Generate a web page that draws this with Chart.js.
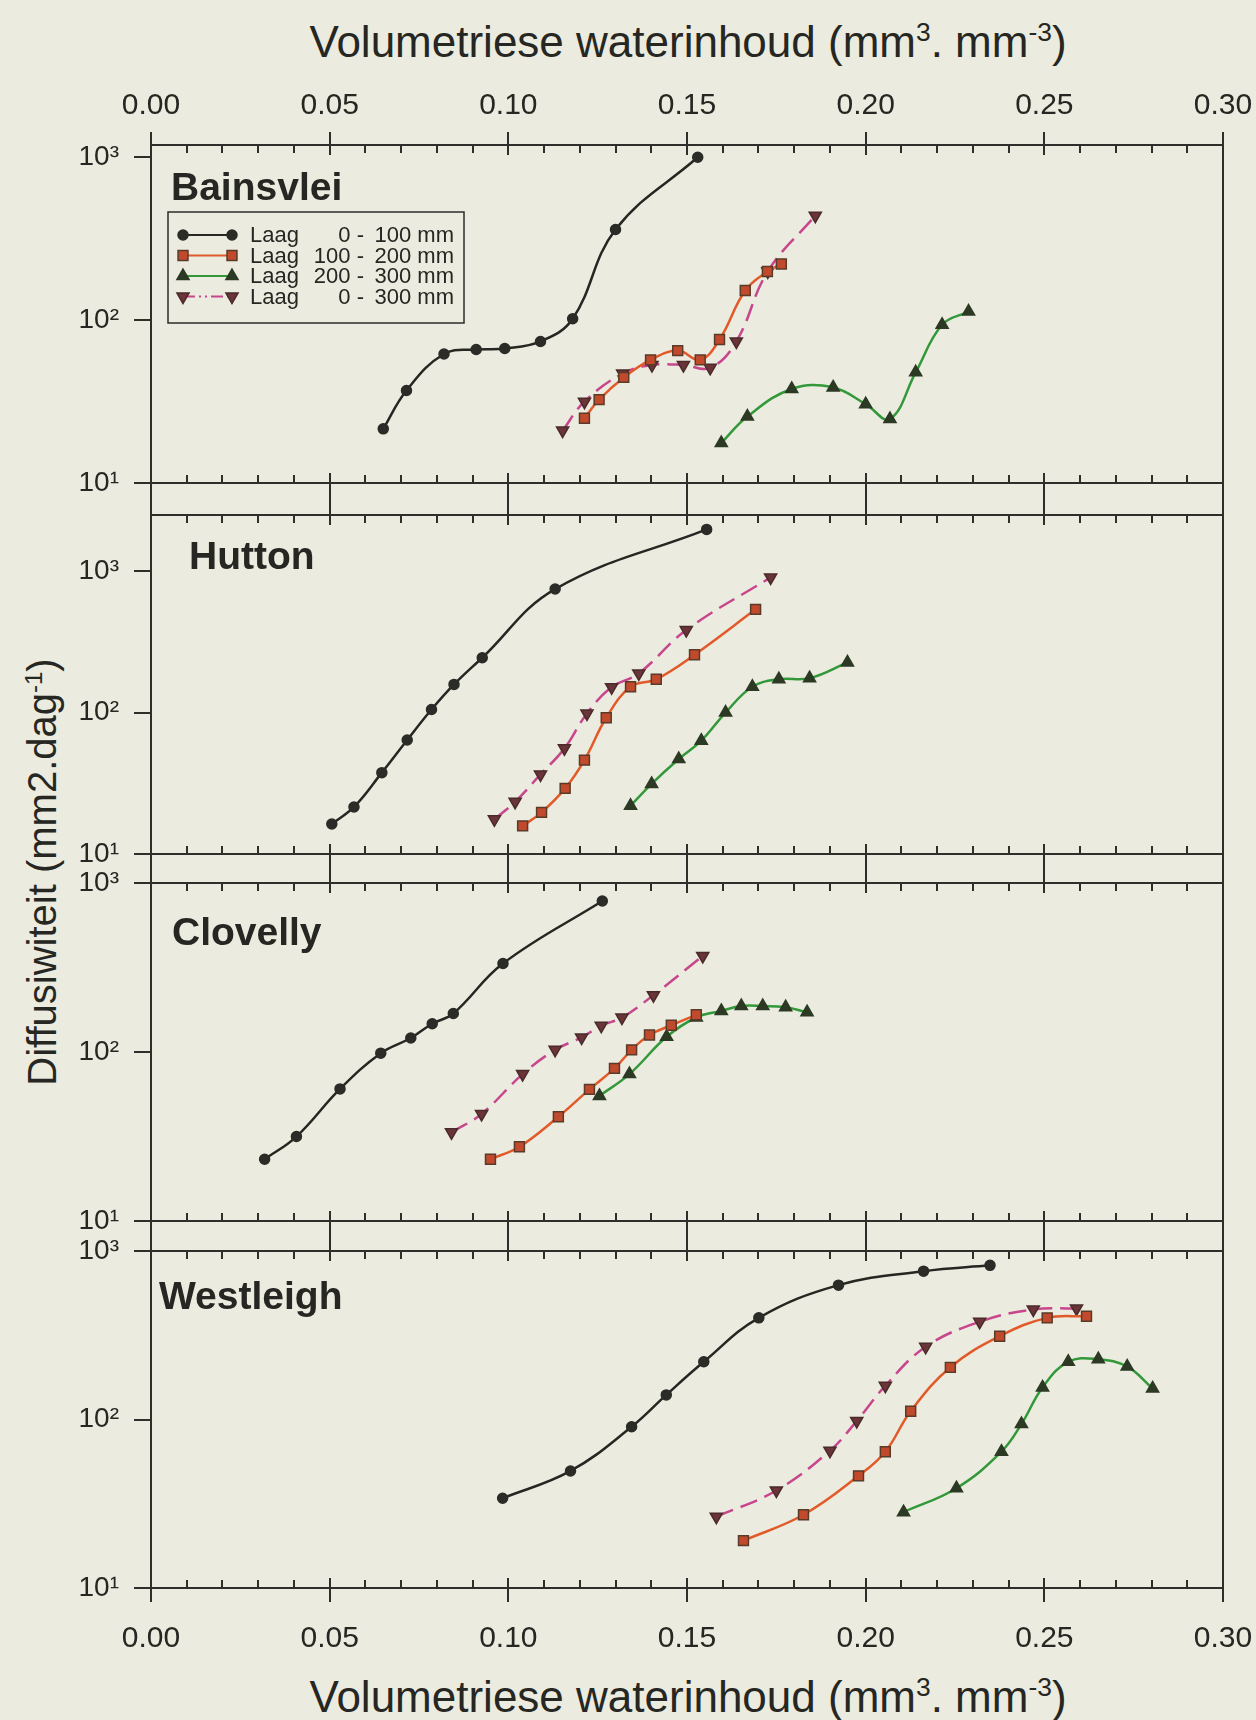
<!DOCTYPE html>
<html>
<head>
<meta charset="utf-8">
<script src="https://cdn.jsdelivr.net/npm/chart.js@4.4.1/dist/chart.umd.min.js"></script>
<style>
  html, body { margin: 0; padding: 0; }
  body {
    width: 1256px; height: 1720px; position: relative; overflow: hidden;
    background: #ebebdf; color: #262622;
    font-family: 'Liberation Sans', Arial, sans-serif;
  }
  canvas { position: absolute; left: 0; top: 0; }
  .title { position: absolute; white-space: nowrap; line-height: 1; transform: translate(-50%, -50%); }
  .title sup { font-size: 0.6em; position: relative; top: -0.6em; vertical-align: baseline; line-height: 0; }
  #xTop { left: 688px; top: 42px; font-size: 44px; }
  #xBottom { left: 688px; top: 1697px; font-size: 44px; }
  #yTitle { left: 42px; top: 872px; font-size: 40px; transform: translate(-50%, -50%) rotate(-90deg); }
</style>
</head>
<body>
<div class="title" id="xTop">Volumetriese waterinhoud (mm<sup>3</sup>. mm<sup>-3</sup>)</div>
<div class="title" id="yTitle">Diffusiwiteit (mm2.dag<sup>-1</sup>)</div>
<div class="title" id="xBottom">Volumetriese waterinhoud (mm<sup>3</sup>. mm<sup>-3</sup>)</div>
<canvas id="panel0" width="1256" height="1720"></canvas>
<canvas id="panel1" width="1256" height="1720"></canvas>
<canvas id="panel2" width="1256" height="1720"></canvas>
<canvas id="panel3" width="1256" height="1720"></canvas>
<script>
// soils and layers
const SOILS = ['Bainsvlei', 'Hutton', 'Clovelly', 'Westleigh'];
const LAYER_FROM = [0, 100, 200, 0];
const LAYER_TO = [100, 200, 300, 300];

// axes
const X_TICKS = [0, 0.05, 0.10, 0.15, 0.20, 0.25, 0.30];
const Y_TICKS = [10, 100, 1000];
const Y_LABELS = ['10¹', '10²', '10³'];
const Y_MAX = [1190, 2490, 1000, 1000];

// [water content, diffusivity] per soil and layer
const bainsvlei0_100 = [[0.065, 21.5], [0.0715, 37], [0.082, 62], [0.091, 66], [0.099, 67], [0.109, 74], [0.118, 102], [0.130, 360], [0.153, 1000]];
const bainsvlei100_200 = [[0.1213, 25], [0.1254, 32.5], [0.1323, 44.5], [0.1398, 57], [0.1474, 65], [0.1537, 57], [0.1591, 76], [0.1663, 152], [0.1725, 199], [0.1764, 221]];
const bainsvlei200_300 = [[0.1596, 17.6], [0.1669, 25.6], [0.1793, 37.8], [0.1909, 38.6], [0.200, 30.5], [0.2068, 24.7], [0.214, 47.8], [0.2214, 93.7], [0.2288, 113]];
const bainsvlei0_300 = [[0.1152, 21], [0.1213, 31.6], [0.132, 47], [0.1402, 53], [0.149, 53], [0.1565, 51], [0.1638, 74], [0.1726, 199], [0.1859, 438]];

const hutton0_100 = [[0.0506, 16.3], [0.0568, 21.5], [0.0646, 37.6], [0.0717, 64], [0.0785, 105], [0.0848, 158], [0.0927, 244], [0.1131, 746], [0.1555, 1970]];
const hutton100_200 = [[0.104, 15.8], [0.1093, 19.7], [0.1159, 29.1], [0.1213, 46.1], [0.1274, 91.8], [0.1342, 152], [0.1414, 172], [0.1521, 256], [0.1692, 536]];
const hutton200_300 = [[0.1342, 21.9], [0.1401, 31.3], [0.1477, 46.9], [0.154, 63.2], [0.1608, 100], [0.1683, 152], [0.1757, 172], [0.1843, 175], [0.1949, 226]];
const hutton0_300 = [[0.0961, 17.6], [0.1019, 23.4], [0.109, 36.5], [0.1157, 55.8], [0.122, 98.6], [0.1289, 151], [0.1365, 189], [0.1498, 383], [0.1734, 902]];

const clovelly0_100 = [[0.0318, 23.2], [0.0407, 31.6], [0.0529, 60.5], [0.0643, 98.4], [0.0727, 121], [0.0787, 147], [0.0846, 169], [0.0985, 334], [0.1263, 782]];
const clovelly100_200 = [[0.095, 23.2], [0.1031, 27.5], [0.114, 41.4], [0.1227, 60.1], [0.1297, 80], [0.1345, 103], [0.1395, 126], [0.1456, 144], [0.1526, 166]];
const clovelly200_300 = [[0.1255, 55], [0.1339, 74], [0.1443, 123], [0.1526, 160], [0.1596, 175], [0.1652, 187], [0.1712, 187], [0.1776, 184], [0.1836, 172]];
const clovelly0_300 = [[0.0841, 33.5], [0.0925, 43], [0.104, 74], [0.1131, 103], [0.1205, 122], [0.126, 143], [0.1318, 160], [0.1406, 217], [0.1544, 370]];

const westleigh0_100 = [[0.0984, 34.1], [0.1174, 49.5], [0.1345, 90.6], [0.1442, 140], [0.1547, 220], [0.1701, 401], [0.1924, 627], [0.2162, 759], [0.2348, 822]];
const westleigh100_200 = [[0.1658, 19.1], [0.1826, 27.2], [0.198, 46.3], [0.2055, 64.4], [0.2126, 112], [0.2237, 204], [0.2375, 312], [0.2508, 401], [0.2618, 410]];
const westleigh200_300 = [[0.2106, 28.2], [0.2254, 39.1], [0.238, 64.4], [0.2436, 94], [0.2495, 155], [0.2567, 220], [0.2651, 228], [0.2732, 206], [0.2803, 153]];
const westleigh0_300 = [[0.1582, 26.5], [0.175, 37.9], [0.19, 65.3], [0.1975, 98], [0.2055, 158.6], [0.2168, 270], [0.2319, 380], [0.2469, 450], [0.259, 456]];

const SERIES = [
  [bainsvlei0_100, bainsvlei100_200, bainsvlei200_300, bainsvlei0_300],
  [hutton0_100, hutton100_200, hutton200_300, hutton0_300],
  [clovelly0_100, clovelly100_200, clovelly200_300, clovelly0_300],
  [westleigh0_100, westleigh100_200, westleigh200_300, westleigh0_300],
];

// page layout
const PAGE_W = 1256, PAGE_H = 1720;
const PLOT_LEFT = 151, PLOT_RIGHT = 1223;
const PANEL_TOP = [145, 515, 883, 1251];
const PANEL_BOTTOM = [483, 854, 1221, 1588];
const NAME_POS = [[171, 189], [189, 558], [172, 934], [159, 1298]];
const LEGEND = { x: 168, y: 212, w: 296, h: 111, row0: 235, rowStep: 20.5, lineFrom: 183, lineTo: 232, word: 250, from: 364, to: 454 };

const AXIS = '#2e2e2a';
const TEXT = '#262622';
const FONT = "'Liberation Sans', Arial, sans-serif";

const STYLES = [
  { borderColor: '#262622', pointStyle: 'circle', pointRadius: 5, pointBackgroundColor: '#2b2b27', pointBorderColor: '#2b2b27' },
  { borderColor: '#e25a2a', pointStyle: 'rect', pointRadius: 7, pointBackgroundColor: '#c24a2c', pointBorderColor: '#5a3a28' },
  { borderColor: '#33983a', pointStyle: 'triangle', pointRadius: 7, pointBackgroundColor: '#2c3a24', pointBorderColor: '#2c3a24' },
  { borderColor: '#c8468c', borderDash: [18, 8], pointStyle: 'triangle', pointRotation: 180, pointRadius: 7, pointBackgroundColor: '#6a3438', pointBorderColor: '#4a2a2a' },
];
const LEGEND_DASH = [[], [], [], [12, 4, 2, 4, 2, 4]];

Chart.defaults.font.family = FONT;
Chart.defaults.color = TEXT;

function drawMarker(ctx, st, x, y) {
  const r = st.pointRadius;
  ctx.save();
  ctx.setLineDash([]);
  ctx.fillStyle = st.pointBackgroundColor;
  ctx.strokeStyle = st.pointBorderColor;
  ctx.lineWidth = 1.5;
  ctx.beginPath();
  if (st.pointStyle === 'circle') {
    ctx.arc(x, y, r, 0, Math.PI * 2);
  } else if (st.pointStyle === 'rect') {
    const h = r * Math.SQRT1_2;
    ctx.rect(x - h, y - h, 2 * h, 2 * h);
  } else {
    const rot = (st.pointRotation || 0) * Math.PI / 180;
    for (let k = 0; k < 3; k++) {
      const a = rot + k * 2 * Math.PI / 3;
      const px = x + Math.sin(a) * r, py = y - Math.cos(a) * r;
      if (k) ctx.lineTo(px, py); else ctx.moveTo(px, py);
    }
    ctx.closePath();
  }
  ctx.fill();
  ctx.stroke();
  ctx.restore();
}

// panel box, inward x ticks, panel name and (first panel) the legend
const framePlugin = {
  id: 'frame',
  beforeDatasetsDraw(chart, args, opts) {
    const { ctx, chartArea: { left, right, top, bottom }, scales: { x } } = chart;
    ctx.save();
    ctx.strokeStyle = AXIS;
    ctx.lineWidth = 2;
    ctx.beginPath();
    ctx.moveTo(left - 1, top); ctx.lineTo(right + 1, top);
    ctx.moveTo(left - 1, bottom); ctx.lineTo(right + 1, bottom);
    ctx.moveTo(left, top - opts.above); ctx.lineTo(left, bottom + opts.below);
    ctx.moveTo(right, top - opts.above); ctx.lineTo(right, bottom + opts.below);
    for (let k = 0; k <= 30; k++) {
      const px = Math.round(x.getPixelForValue(k / 100));
      if (k % 5 === 0) {
        ctx.moveTo(px, top - opts.majorAbove); ctx.lineTo(px, top + 10);
        ctx.moveTo(px, bottom - 10); ctx.lineTo(px, bottom + opts.majorBelow);
      } else {
        ctx.moveTo(px, top); ctx.lineTo(px, top + 8);
        ctx.moveTo(px, bottom - 8); ctx.lineTo(px, bottom);
      }
    }
    ctx.stroke();

    ctx.fillStyle = TEXT;
    ctx.font = 'bold 39px ' + FONT;
    ctx.textBaseline = 'middle';
    ctx.textAlign = 'left';
    ctx.fillText(opts.name, opts.nameX, opts.nameY);

    if (opts.legend) {
      ctx.lineWidth = 1.5;
      ctx.strokeRect(LEGEND.x, LEGEND.y, LEGEND.w, LEGEND.h);
      ctx.font = '22px ' + FONT;
      chart.data.datasets.forEach((ds, j) => {
        const y = LEGEND.row0 + j * LEGEND.rowStep;
        ctx.save();
        ctx.strokeStyle = ds.borderColor;
        ctx.lineWidth = 2;
        ctx.setLineDash(LEGEND_DASH[j]);
        ctx.beginPath();
        ctx.moveTo(LEGEND.lineFrom, y); ctx.lineTo(LEGEND.lineTo, y);
        ctx.stroke();
        ctx.restore();
        drawMarker(ctx, STYLES[j], LEGEND.lineFrom, y);
        drawMarker(ctx, STYLES[j], LEGEND.lineTo, y);
        ctx.textAlign = 'left';
        ctx.fillText('Laag', LEGEND.word, y + 1);
        ctx.textAlign = 'right';
        ctx.fillText(LAYER_FROM[j] + ' -', LEGEND.from, y + 1);
        ctx.fillText(LAYER_TO[j] + ' mm', LEGEND.to, y + 1);
      });
    }
    ctx.restore();
  }
};

SOILS.forEach((soil, i) => {
  const first = i === 0;
  const last = i === SOILS.length - 1;
  const gapAbove = first ? 0 : Math.ceil((PANEL_TOP[i] - PANEL_BOTTOM[i - 1]) / 2) + 1;
  const gapBelow = last ? 0 : Math.ceil((PANEL_TOP[i + 1] - PANEL_BOTTOM[i]) / 2) + 1;

  new Chart(document.getElementById('panel' + i), {
    type: 'line',
    data: {
      datasets: SERIES[i].map((pts, j) => Object.assign({
        label: 'Laag ' + LAYER_FROM[j] + ' - ' + LAYER_TO[j] + ' mm',
        data: pts.map(([x, y]) => ({ x, y })),
        borderWidth: 2.5,
        pointBorderWidth: 1.5,
        tension: 0.4,
      }, STYLES[j]))
    },
    options: {
      responsive: false,
      animation: false,
      events: [],
      layout: {
        padding: {
          left: 0,
          right: PAGE_W - PLOT_RIGHT,
          top: first ? 0 : PANEL_TOP[i],
          bottom: last ? 0 : PAGE_H - PANEL_BOTTOM[i],
        }
      },
      plugins: {
        legend: { display: false },
        tooltip: { enabled: false },
        frame: {
          above: gapAbove, below: gapBelow,
          majorAbove: first ? 13 : gapAbove, majorBelow: last ? 14 : gapBelow,
          name: soil, nameX: NAME_POS[i][0], nameY: NAME_POS[i][1],
          legend: first,
        },
      },
      scales: {
        x: {
          type: 'linear', min: 0, max: 0.3,
          display: first || last,
          position: first ? 'top' : 'bottom',
          grid: { display: false, drawTicks: false },
          border: { display: false },
          afterBuildTicks: s => { s.ticks = X_TICKS.map(v => ({ value: v })); },
          afterFit: s => {
            if (first) s.height = PANEL_TOP[0];
            else if (last) s.height = PAGE_H - PANEL_BOTTOM[i];
            else s.height = 0;
            s.paddingLeft = 0;
            s.paddingRight = 0;
          },
          ticks: {
            autoSkip: false, maxRotation: 0, minRotation: 0,
            padding: first ? 21 : 33,
            font: { size: 30 },
            color: TEXT,
            callback: v => v.toFixed(2),
          },
        },
        y: {
          type: 'logarithmic', min: 10, max: Y_MAX[i],
          grid: { drawOnChartArea: false, drawTicks: true, tickLength: 17, color: AXIS, lineWidth: 2 },
          border: { display: false },
          afterBuildTicks: s => { s.ticks = Y_TICKS.filter(v => v >= s.min && v <= s.max).map(v => ({ value: v })); },
          afterFit: s => { s.width = PLOT_LEFT; s.paddingTop = 0; s.paddingBottom = 0; },
          ticks: {
            padding: 15,
            font: { size: 28 },
            color: TEXT,
            callback: v => Y_LABELS[Y_TICKS.indexOf(v)],
          },
        },
      },
    },
    plugins: [framePlugin],
  });
});
</script>
</body>
</html>
